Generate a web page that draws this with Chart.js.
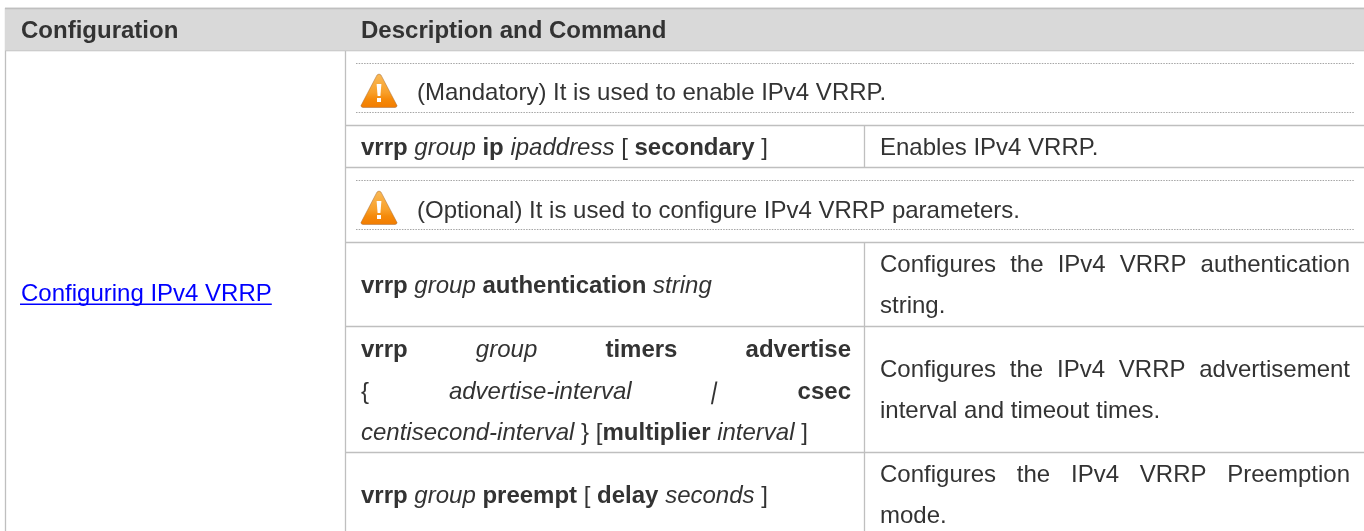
<!DOCTYPE html>
<html>
<head>
<meta charset="utf-8">
<title>VRRP configuration</title>
<script src="https://cdn.jsdelivr.net/npm/chart.js@4"></script>
<style>
  html, body { margin: 0; padding: 0; background: #fff; overflow: hidden; }
  canvas { display: block; }
</style>
</head>
<body>
<canvas id="tableChart" width="1364" height="531"></canvas>
<script>
/* ================= TABLE TEXT ================= */
// ** = bold, _ = italic
const headerLabels = ["Configuration", "Description and Command"];
const linkLabel = "Configuring IPv4 VRRP";
const noticeLines = [
  "(Mandatory) It is used to enable IPv4 VRRP.",
  "(Optional) It is used to configure IPv4 VRRP parameters."
];
const commandLines = [
  "**vrrp** _group_ **ip** _ipaddress_ [ **secondary** ]",
  "**vrrp** _group_ **authentication** _string_",
  "**vrrp** _group_ **timers** **advertise**",
  "{ _advertise-interval_ _|_ **csec**",
  "_centisecond-interval_ } [**multiplier** _interval_ ]",
  "**vrrp** _group_ **preempt** [ **delay** _seconds_ ]"
];
const commandJustified = [false, false, true, true, false, false];
const descriptionLines = [
  "Enables IPv4 VRRP.",
  "Configures the IPv4 VRRP authentication",
  "string.",
  "Configures the IPv4 VRRP advertisement",
  "interval and timeout times.",
  "Configures the IPv4 VRRP Preemption",
  "mode."
];
const descriptionJustified = [false, true, false, true, false, true, false];

/* ================= TABLE GEOMETRY ================= */
const rowRules = [8.5, 50.5, 125.5, 167.5, 242.5, 326.5, 452.5];
const noticeRules = [63.5, 112.5, 180.5, 229.5];
const colRules = [5.5, 345.5];
const splitRuleX = 864.5;
const splitSpans = [[125, 167], [242, 531]];
const noticeBaselines = [100, 218];
const iconTops = [74, 191];
const commandBaselines = [155, 293, 357, 399, 440, 503];
const descriptionBaselines = [155, 272, 313, 377, 418, 482, 523];

const FONT = '"Liberation Sans", Arial, sans-serif';
const FONT_SIZE = 24;
const TEXT_COLOR = "#333333";
const RULE_COLOR = "#bfbfbf";

function seg(x0, y0, x1, y1, color, extra) {
  return Object.assign({
    data: [{ x: x0, y: y0 }, { x: x1, y: y1 }],
    showLine: true,
    pointRadius: 0,
    borderWidth: 1.3,
    borderColor: color
  }, extra || {});
}

const datasets = [];
// header band
datasets.push(seg(5, rowRules[0], 1364, rowRules[0], RULE_COLOR, { fill: { value: rowRules[1] }, backgroundColor: "#d9d9d9" }));
rowRules.forEach((y, i) => {
  datasets.push(seg(i < 2 ? 5 : 345, y, 1364, y, RULE_COLOR));
});
noticeRules.forEach(y => {
  datasets.push(seg(356, y, 1354, y, "#a6a6a6", { borderDash: [1.5, 1.2], borderWidth: 1 }));
});
colRules.forEach(x => {
  datasets.push(seg(x, 8, x, 531, RULE_COLOR));
});
splitSpans.forEach(s => {
  datasets.push(seg(splitRuleX, s[0], splitRuleX, s[1], RULE_COLOR));
});

/* ================= TEXT DRAWING ================= */
function parseRuns(line) {
  const runs = [];
  line.split(/(\*\*[^*]+\*\*|_[^_]+_)/).forEach(part => {
    if (!part) return;
    if (part.startsWith("**")) runs.push({ t: part.slice(2, -2), s: "bold" });
    else if (part.startsWith("_")) runs.push({ t: part.slice(1, -1), s: "italic" });
    else runs.push({ t: part, s: "normal" });
  });
  return runs;
}

function fontFor(style, size) {
  return style + " " + size + "px " + FONT;
}

function drawLine(ctx, line, left, right, baseline, justify, size) {
  // split to words so the spaces can be stretched
  const words = [];
  parseRuns(line).forEach(r => {
    r.t.split(/( )/).forEach(w => {
      if (w) words.push({ t: w, s: r.s });
    });
  });
  let total = 0;
  let gaps = 0;
  words.forEach(w => {
    ctx.font = fontFor(w.s, size);
    w.w = ctx.measureText(w.t).width;
    total += w.w;
    if (w.t === " ") gaps++;
  });
  const extra = justify && gaps ? (right - left - total) / gaps : 0;
  let x = left;
  words.forEach(w => {
    ctx.font = fontFor(w.s, size);
    if (w.t === "|") {
      // the italic bar stays upright in this font, lean it by hand
      ctx.save();
      ctx.transform(1, 0, -0.2, 1, x - 2 + 0.2 * baseline, 0);
      ctx.fillText(w.t, 0, baseline);
      ctx.restore();
    } else if (w.t !== " ") {
      ctx.fillText(w.t, x, baseline);
    }
    x += w.w + (w.t === " " ? extra : 0);
  });
  return x;
}

function drawWarning(ctx, x, y) {
  const w = 36, h = 33.5;
  const g = ctx.createLinearGradient(0, y, 0, y + h);
  g.addColorStop(0, "#f9b956");
  g.addColorStop(0.55, "#f8a02a");
  g.addColorStop(0.75, "#f58a0a");
  g.addColorStop(1, "#f27c00");
  ctx.save();
  ctx.beginPath();
  ctx.moveTo(x + w / 2 - 2, y + 1);
  ctx.quadraticCurveTo(x + w / 2, y - 1, x + w / 2 + 2, y + 1);
  ctx.lineTo(x + w, y + h - 2);
  ctx.quadraticCurveTo(x + w, y + h, x + w - 2, y + h);
  ctx.lineTo(x + 2, y + h);
  ctx.quadraticCurveTo(x, y + h, x, y + h - 2);
  ctx.closePath();
  ctx.fillStyle = g;
  ctx.fill();
  ctx.strokeStyle = "rgba(150,95,50,0.6)";
  ctx.lineWidth = 0.7;
  ctx.stroke();
  ctx.fillStyle = "#ffffff";
  ctx.beginPath();
  ctx.moveTo(x + w / 2 - 2.4, y + 10);
  ctx.lineTo(x + w / 2 + 2.4, y + 10);
  ctx.lineTo(x + w / 2 + 1.4, y + 22);
  ctx.lineTo(x + w / 2 - 1.4, y + 22);
  ctx.closePath();
  ctx.fill();
  ctx.fillRect(x + w / 2 - 2, y + 24, 4, 4);
  ctx.restore();
}

const tableText = {
  id: "tableText",
  afterDatasetsDraw(chart) {
    const { ctx, scales } = chart;
    const px = v => scales.x.getPixelForValue(v);
    const py = v => scales.y.getPixelForValue(v);
    ctx.save();
    ctx.textBaseline = "alphabetic";
    ctx.textAlign = "left";
    ctx.fillStyle = TEXT_COLOR;

    ctx.font = fontFor("bold", FONT_SIZE);
    ctx.fillText(headerLabels[0], px(21), py(38));
    ctx.fillText(headerLabels[1], px(361), py(38));

    noticeLines.forEach((line, i) => {
      drawLine(ctx, line, px(417), px(1350), py(noticeBaselines[i]), false, FONT_SIZE);
      drawWarning(ctx, px(361), py(iconTops[i]));
    });
    commandLines.forEach((line, i) => {
      drawLine(ctx, line, px(361), px(851), py(commandBaselines[i]), commandJustified[i], FONT_SIZE);
    });
    descriptionLines.forEach((line, i) => {
      drawLine(ctx, line, px(880), px(1350), py(descriptionBaselines[i]), descriptionJustified[i], FONT_SIZE);
    });

    // link in the first column
    ctx.fillStyle = "#0000ff";
    ctx.font = fontFor("normal", FONT_SIZE);
    const linkW = ctx.measureText(linkLabel).width;
    ctx.fillText(linkLabel, px(21), py(301));
    ctx.fillRect(px(20), py(303.5), linkW + 1, 1.5);
    ctx.restore();
  }
};

/* ================= CHART ================= */
new Chart(document.getElementById("tableChart"), {
  type: "scatter",
  data: { datasets },
  options: {
    responsive: false,
    animation: false,
    layout: { padding: 0 },
    plugins: { legend: { display: false }, tooltip: { enabled: false } },
    scales: {
      x: { type: "linear", min: 0, max: 1364, display: false },
      y: { type: "linear", min: 0, max: 531, reverse: true, display: false }
    }
  },
  plugins: [tableText]
});
</script>
</body>
</html>
